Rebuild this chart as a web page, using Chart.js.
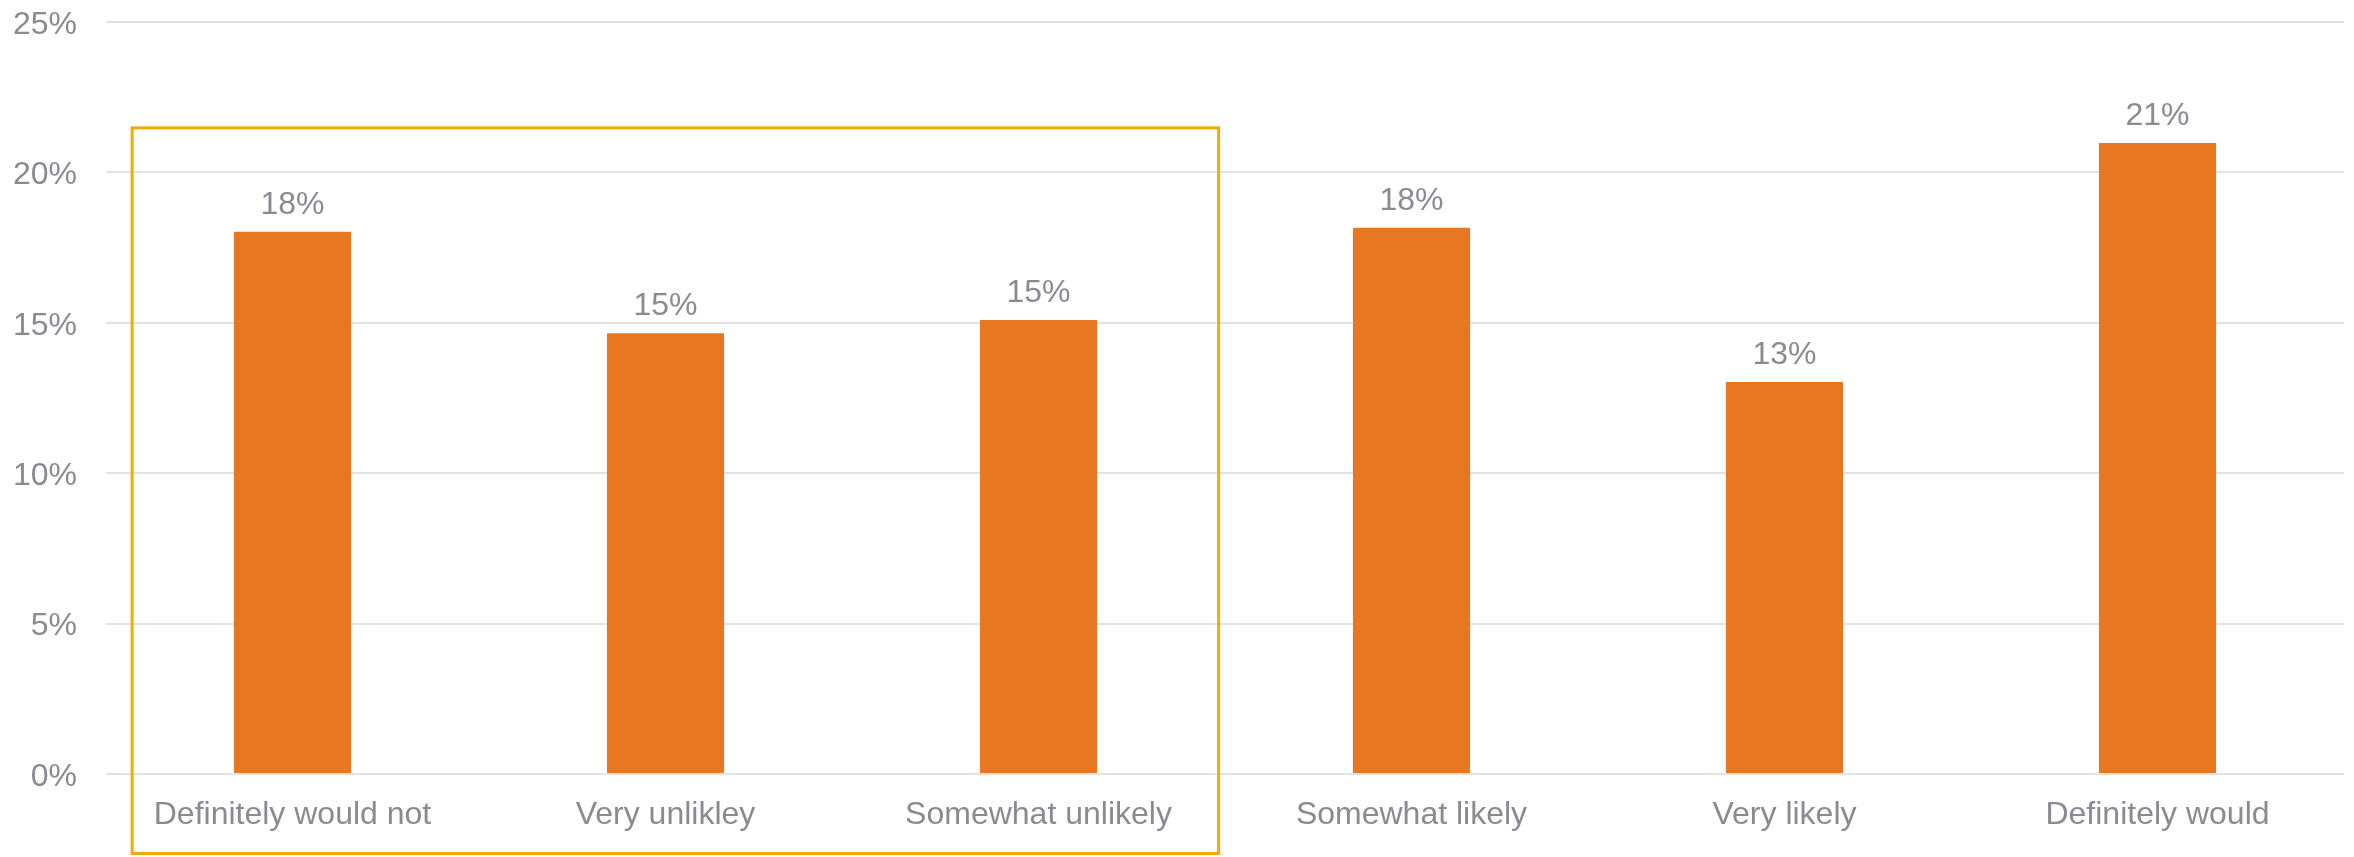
<!DOCTYPE html>
<html>
<head>
<meta charset="utf-8">
<script src="https://cdn.jsdelivr.net/npm/chart.js@4/dist/chart.umd.min.js"></script>
<style>
  html, body { margin: 0; padding: 0; background: #ffffff; }
  #wrap { width: 2354px; height: 857px; position: relative; }
</style>
</head>
<body>
<div id="wrap"><canvas id="c" width="2354" height="857"></canvas></div>
<script>
const categories = ["Definitely would not", "Very unlikley", "Somewhat unlikely", "Somewhat likely", "Very likely", "Definitely would"];
const values = [18.03, 14.65, 15.09, 18.16, 13.03, 20.98];
const yTicks = [0, 5, 10, 15, 20, 25];
// highlight box around first three categories (in category-index / value units)
const boxRange = { fromIndex: -0.43, toIndex: 2.483, topValue: 21.48 };

const TEXT = '#8a8a92';
const FONT = '"Liberation Sans", Arial, sans-serif';

const dataLabelPlugin = {
  id: 'dataLabels',
  afterDatasetsDraw(chart) {
    const ctx = chart.ctx;
    const meta = chart.getDatasetMeta(0);
    ctx.save();
    ctx.fillStyle = TEXT;
    ctx.font = '32px ' + FONT;
    ctx.textAlign = 'center';
    ctx.textBaseline = 'alphabetic';
    meta.data.forEach((bar, i) => {
      ctx.fillText(Math.round(values[i]) + '%', bar.x, bar.y - 18);
    });
    ctx.restore();
  }
};

const boxPlugin = {
  id: 'highlightBox',
  afterDraw(chart) {
    const x = chart.scales.x, y = chart.scales.y;
    const ctx = chart.ctx;
    const l = x.getPixelForValue(boxRange.fromIndex);
    const r = x.getPixelForValue(boxRange.toIndex);
    const t = y.getPixelForValue(boxRange.topValue);
    const b = chart.height - 3.5;
    ctx.save();
    ctx.strokeStyle = '#EEAD00';
    ctx.lineWidth = 3;
    ctx.strokeRect(l, t, r - l, b - t);
    ctx.restore();
  }
};

new Chart(document.getElementById('c'), {
  type: 'bar',
  data: {
    labels: categories,
    datasets: [{
      data: values,
      backgroundColor: '#E87722',
      borderWidth: 0,
      categoryPercentage: 1,
      barPercentage: 0.314
    }]
  },
  options: {
    responsive: false,
    animation: false,
    events: [],
    layout: { padding: { top: 22, right: 10, left: 0, bottom: 0 } },
    plugins: { legend: { display: false }, tooltip: { enabled: false }, title: { display: false } },
    scales: {
      x: {
        grid: { display: false, drawTicks: false },
        border: { display: false },
        ticks: { color: TEXT, font: { size: 32, family: FONT }, padding: 22, maxRotation: 0, autoSkip: false },
        afterFit(scale) { scale.height = 83; scale.paddingLeft = 0; scale.paddingRight = 0; }
      },
      y: {
        min: 0, max: 25,
        afterBuildTicks(scale) { scale.ticks = yTicks.map(v => ({ value: v })); },
        grid: { color: '#e3e3e3', lineWidth: 2, drawTicks: false },
        border: { display: false },
        ticks: { color: TEXT, font: { size: 32, family: FONT }, padding: 29, labelOffset: 3, callback: v => v + '%' },
        afterFit(scale) { scale.width = 106; scale.paddingTop = 0; scale.paddingBottom = 0; }
      }
    }
  },
  plugins: [dataLabelPlugin, boxPlugin]
});
</script>
</body>
</html>
